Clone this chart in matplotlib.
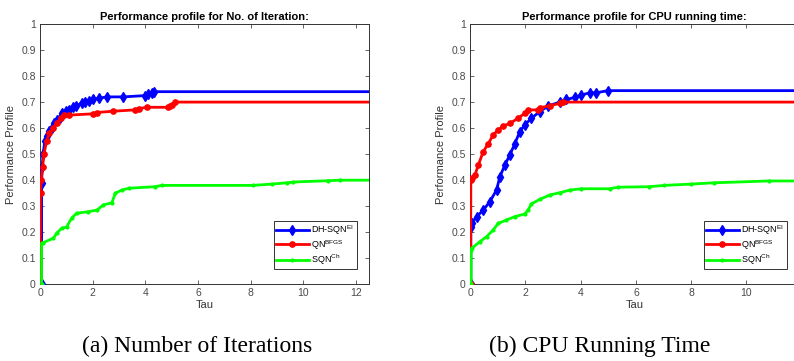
import matplotlib
matplotlib.use("Agg")
import matplotlib.pyplot as plt

plt.rcParams['font.family'] = ['Liberation Sans', 'DejaVu Sans']
plt.rcParams['mathtext.fontset'] = 'custom'
plt.rcParams['mathtext.rm'] = 'Liberation Sans'
plt.rcParams['mathtext.it'] = 'Liberation Sans'

# ---------------- data: (a) number of iterations ----------------
tau_it_dh = [0.06, 0.06, 0.08, 0.12, 0.18, 0.25, 0.35, 0.45, 0.55, 0.65, 0.75, 0.85, 1.0, 1.1,
             1.25, 1.35, 1.58, 1.7, 1.85, 2.0, 2.25, 2.55, 3.17, 4.0, 4.1, 4.25, 4.35, 12.5]
rho_it_dh = [0, 0.39, 0.45, 0.50, 0.55, 0.57, 0.59, 0.60, 0.62, 0.63, 0.64, 0.66, 0.665, 0.67,
             0.68, 0.685, 0.695, 0.70, 0.705, 0.71, 0.715, 0.72, 0.72, 0.725, 0.73, 0.735, 0.74, 0.74]

tau_it_qn = [0.01, 0.02, 0.05, 0.1, 0.15, 0.25, 0.35, 0.5, 0.65, 0.8, 0.9, 1.1, 2.03, 2.15,
             2.79, 3.61, 3.75, 4.06, 4.88, 4.95, 5.0, 5.13, 12.5]
rho_it_qn = [0, 0.35, 0.40, 0.45, 0.50, 0.55, 0.58, 0.60, 0.62, 0.64, 0.65, 0.65, 0.655, 0.66,
             0.665, 0.67, 0.675, 0.68, 0.68, 0.685, 0.69, 0.70, 0.70]

tau_it_sqn = [0.06, 0.06, 0.12, 0.51, 0.63, 0.82, 1.01, 1.2, 1.39, 1.84, 2.16, 2.41, 2.73, 2.86,
              3.11, 3.37, 4.37, 4.63, 8.1, 8.8, 9.4, 9.63, 10.96, 11.4, 12.5]
rho_it_sqn = [0, 0.157, 0.16, 0.177, 0.196, 0.215, 0.22, 0.254, 0.273, 0.279, 0.285, 0.305, 0.313, 0.35,
              0.362, 0.369, 0.375, 0.38, 0.38, 0.385, 0.39, 0.393, 0.398, 0.40, 0.40]

# ---------------- data: (b) CPU running time ----------------
tau_cpu_dh = [0.03, 0.03, 0.06, 0.24, 0.48, 0.72, 0.96, 1.08, 1.26, 1.44, 1.62, 1.8, 1.98, 2.22,
              2.52, 2.82, 3.25, 3.49, 3.79, 4.03, 4.33, 4.57, 4.99, 11.9]
rho_cpu_dh = [0, 0.22, 0.234, 0.26, 0.285, 0.318, 0.362, 0.413, 0.458, 0.497, 0.54, 0.586, 0.612, 0.638,
              0.663, 0.685, 0.70, 0.71, 0.718, 0.727, 0.736, 0.736, 0.744, 0.744]

tau_cpu_qn = [0.02, 0.03, 0.06, 0.18, 0.3, 0.48, 0.66, 0.84, 1.02, 1.2, 1.44, 1.74, 1.98, 2.1,
              2.46, 2.52, 2.88, 3.25, 3.37, 11.9]
rho_cpu_qn = [0, 0.40, 0.407, 0.42, 0.458, 0.51, 0.54, 0.574, 0.593, 0.608, 0.618, 0.638, 0.657, 0.67,
              0.67, 0.678, 0.686, 0.695, 0.70, 0.70]

tau_cpu_sqn = [0.04, 0.04, 0.06, 0.36, 0.6, 0.84, 1.02, 1.32, 1.62, 1.98, 2.1, 2.22, 2.52, 2.88,
               3.25, 3.61, 4.03, 5.05, 5.35, 6.49, 7.03, 7.99, 8.83, 10.82, 11.9]
rho_cpu_sqn = [0, 0.132, 0.138, 0.164, 0.183, 0.209, 0.234, 0.247, 0.26, 0.27, 0.285, 0.309, 0.326, 0.343,
               0.352, 0.362, 0.367, 0.367, 0.373, 0.375, 0.38, 0.385, 0.39, 0.397, 0.397]

labels = ['DH-SQN$^{\\mathrm{EI}}$', 'QN$^{\\mathrm{BFGS}}$', 'SQN$^{\\mathrm{Ch}}$']
titles = ['Performance profile for No. of Iteration:', 'Performance profile for CPU running time:']
captions = ['(a) Number of Iterations', '(b) CPU Running Time']
yticks = [0, 0.1, 0.2, 0.3, 0.4, 0.5, 0.6, 0.7, 0.8, 0.9, 1]
ytick_labels = ['0', '0.1', '0.2', '0.3', '0.4', '0.5', '0.6', '0.7', '0.8', '0.9', '1']

fig = plt.figure(figsize=(7.94, 3.61), dpi=100)
ax1 = fig.add_axes([40 / 794, 1 - 284.3 / 361, 329 / 794, 260.3 / 361])
ax2 = fig.add_axes([470 / 794, 1 - 284.3 / 361, 329 / 794, 260.3 / 361])

panels = [
    (ax1, (tau_it_dh, rho_it_dh), (tau_it_qn, rho_it_qn), (tau_it_sqn, rho_it_sqn), 12.5, [0, 2, 4, 6, 8, 10, 12]),
    (ax2, (tau_cpu_dh, rho_cpu_dh), (tau_cpu_qn, rho_cpu_qn), (tau_cpu_sqn, rho_cpu_sqn), 11.9, [0, 2, 4, 6, 8, 10]),
]

tick_col = '#4a4a4a'
for i, (ax, dh, qn, sqn, xmax, xt) in enumerate(panels):
    ax.plot(dh[0], dh[1], color='#0000ff', lw=2, marker='d', ms=5,
            markevery=slice(0, len(dh[0]) - 1), label=labels[0], zorder=3)
    ax.plot(qn[0], qn[1], color='#ff0000', lw=2, marker='o', ms=3.8,
            markevery=slice(0, len(qn[0]) - 1), label=labels[1], zorder=4)
    ax.plot(sqn[0], sqn[1], color='#00ff00', lw=2, marker='.', ms=4,
            markevery=slice(0, len(sqn[0]) - 1), label=labels[2], zorder=5)
    ax.set_xlim(0, xmax)
    ax.set_ylim(0, 1)
    ax.set_xticks(xt)
    ax.set_xticklabels([str(v) for v in xt])
    ax.set_yticks(yticks)
    ax.set_yticklabels(ytick_labels)
    ax.tick_params(direction='in', length=3, width=0.6, labelsize=7.5, colors=tick_col,
                   top=True, right=True, pad=3)
    for s in ax.spines.values():
        s.set_color('#333333')
        s.set_linewidth(0.7)
    ax.set_title(titles[i], fontsize=8, fontweight='bold', pad=3)
    ax.set_xlabel('Tau', fontsize=8, color='#333333', labelpad=1)
    ax.set_ylabel('Performance Profile', fontsize=8, color='#333333', labelpad=4)
    leg = ax.legend(loc='lower right', bbox_to_anchor=(0.976, 0.04), fontsize=6.5,
                    handlelength=3.6, handletextpad=0.3, labelspacing=0.12, borderpad=0.25,
                    fancybox=False, framealpha=1, edgecolor='#333333')
    leg.get_frame().set_linewidth(0.7)

fig.text(197 / 794, 1 - 346 / 361, captions[0], family='Liberation Serif', fontsize=17,
         ha='center', va='center')
fig.text(600 / 794, 1 - 346 / 361, captions[1], family='Liberation Serif', fontsize=17,
         ha='center', va='center')

fig.savefig('out.png', dpi=100)
